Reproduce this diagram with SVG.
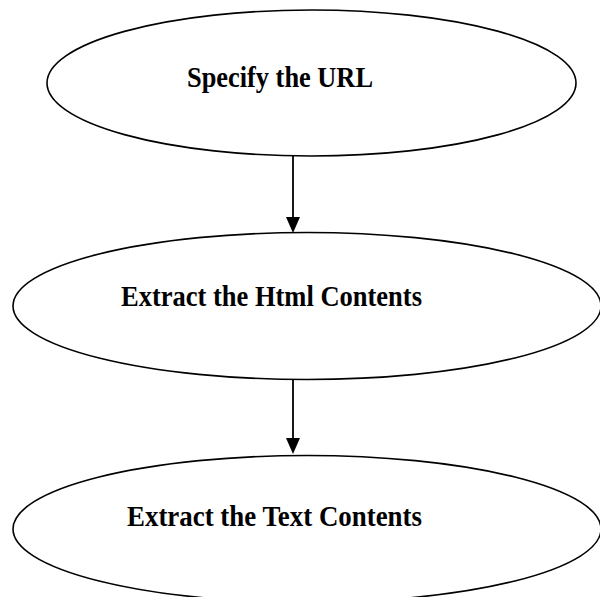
<svg xmlns="http://www.w3.org/2000/svg" width="600" height="597" viewBox="0 0 600 597">
<style>
.node{fill:#fff;stroke:#000;stroke-width:1.6}
.lbl{font-family:"Liberation Serif","Times New Roman",serif;font-weight:bold;font-size:29px;fill:#000}
.edge{stroke:#000;stroke-width:1.8;fill:none}
.head{fill:#000}
</style>
<rect width="600" height="597" fill="#fff"/>
<g id="n1">
<ellipse class="node" cx="311.5" cy="83" rx="264.5" ry="73"/>
<text class="lbl" x="187" y="86.5" textLength="186" lengthAdjust="spacingAndGlyphs">Specify the URL</text>
</g>
<g id="n2">
<ellipse class="node" cx="307" cy="306" rx="294" ry="73.5"/>
<text class="lbl" x="121" y="306" textLength="301" lengthAdjust="spacingAndGlyphs">Extract the Html Contents</text>
</g>
<g id="n3">
<ellipse class="node" cx="307" cy="529" rx="294" ry="73.5"/>
<text class="lbl" x="127" y="526" textLength="295" lengthAdjust="spacingAndGlyphs">Extract the Text Contents</text>
</g>
<g id="edges">
<line class="edge" x1="293" y1="156" x2="293" y2="218"/>
<path class="head" d="M286,217 L300,217 L293,233 Z"/>
<line class="edge" x1="293" y1="379.5" x2="293" y2="439"/>
<path class="head" d="M286,438 L300,438 L293,454 Z"/>
</g>
</svg>
